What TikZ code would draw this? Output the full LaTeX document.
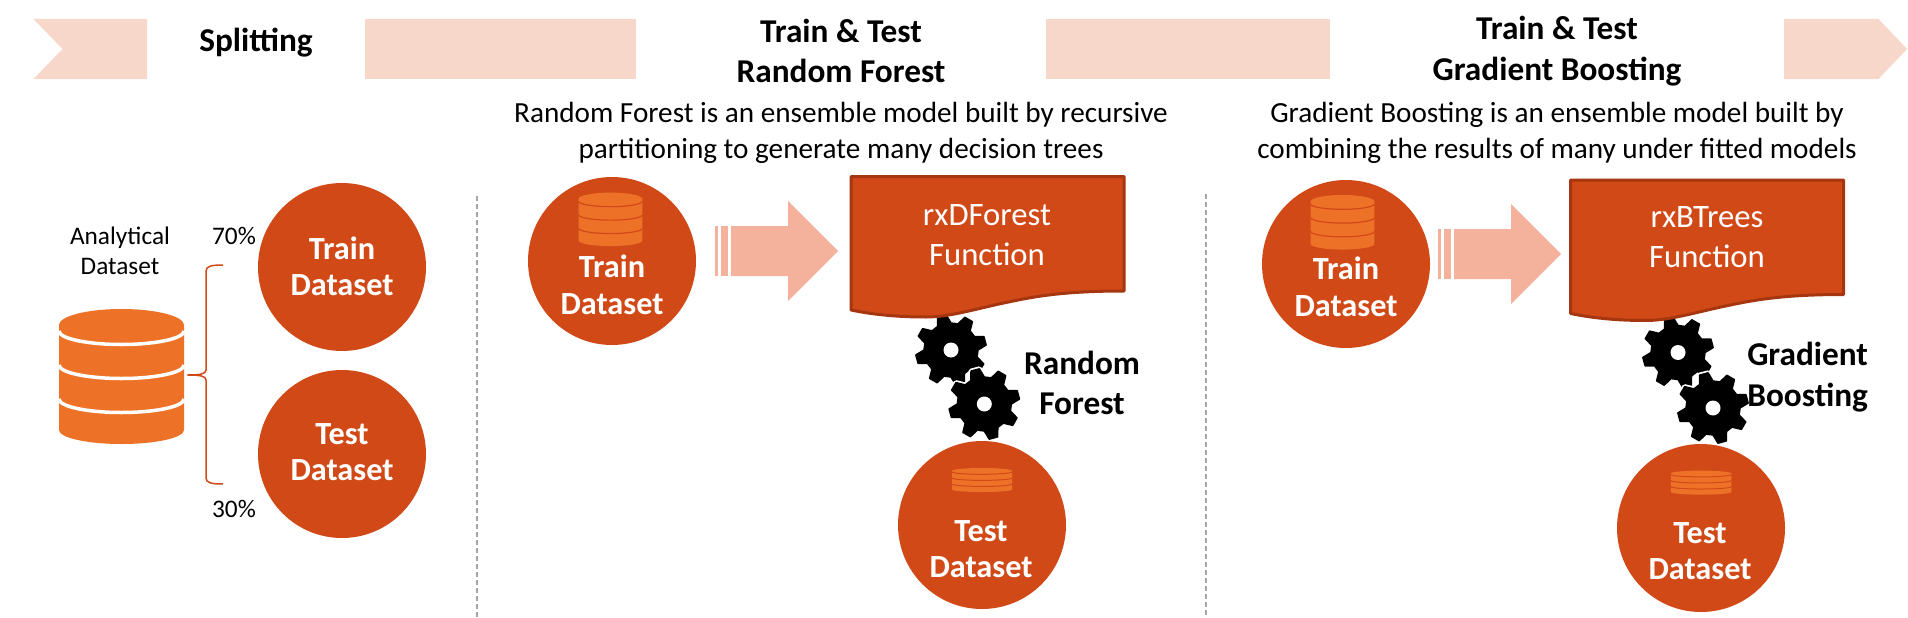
\documentclass[tikz,border=0pt]{standalone}
\usepackage{fontspec}
\setmainfont{Carlito}
\definecolor{rustfill}{HTML}{D14917}
\definecolor{rustline}{HTML}{A5360F}
\definecolor{dborange}{HTML}{EE7128}
\definecolor{bandpink}{HTML}{F8D7CB}
\definecolor{arrowpink}{HTML}{F4B19B}
\definecolor{dashgray}{HTML}{A6A6A6}
\tikzset{
  dsetcircle/.style={circle, fill=rustfill, minimum size=168pt, inner sep=0pt},
  dsettext/.style={align=center, text=white, inner sep=0pt, font=\fontsize{32.3}{36.5}\selectfont\bfseries},
  headtext/.style={align=center, inner sep=0pt, font=\fontsize{33.3}{40.5}\selectfont\bfseries},
  desctext/.style={align=center, inner sep=0pt, font=\fontsize{29.2}{35.5}\selectfont},
  functext/.style={align=center, text=white, inner sep=0pt, font=\fontsize{32.7}{40}\selectfont},
  smalltext/.style={align=center, inner sep=0pt, font=\fontsize{25.3}{30}\selectfont}
}
\newcommand{\gearicon}[2]{
  \begin{scope}[shift={(#1,#2)}]
    \draw[fill=black, draw=white, line width=5pt, line join=round] (15:27)
      \foreach \a in {0,45,...,315} { -- ({\a+15}:27) -- ({\a+23}:35.5) -- ({\a+37}:35.5) -- ({\a+45}:27) } -- cycle;
    \draw[fill=black, draw=black, line width=1.5pt, line join=round] (15:27)
      \foreach \a in {0,45,...,315} { -- ({\a+15}:27) -- ({\a+23}:35.5) -- ({\a+37}:35.5) -- ({\a+45}:27) } -- cycle;
    \fill[white] (0,0) circle (7.5);
  \end{scope}
}
\newcommand{\dbicon}[6]{
  \begin{scope}[shift={(#1,#2)}, xscale=#3, yscale=#4]
    \fill[dborange] (-62.5,16) arc (180:360:62.5 and 16) -- (62.5,121) arc (0:180:62.5 and 14) -- cycle;
    \draw[#5, line width=#6] (-62.5,22) arc (180:0:62.5 and 13.5);
    \draw[#5, line width=#6] (-62.5,56) arc (180:0:62.5 and 13.5);
    \draw[#5, line width=#6] (-62.5,90) arc (180:0:62.5 and 13.5);
  \end{scope}
}
\newcommand{\docshape}[2]{
  \begin{scope}[shift={(#1,#2)}]
    \draw[fill=rustfill, draw=rustline, line width=3pt, line join=round] (0,0) -- (273,0) -- (273,114.5)
      .. controls (208,114.5) and (179,121) .. (155,126) .. controls (124,132.5) and (99,140.5) .. (75,140.5)
      .. controls (49,140.5) and (24,138.5) .. (0,133.5) -- cycle;
  \end{scope}
}
\newcommand{\stripearrow}[2]{
  \begin{scope}[shift={(#1,#2)}]
    \fill[arrowpink] (0,-25) rectangle (3,25);
    \fill[arrowpink] (6,-25) rectangle (13,25);
    \fill[arrowpink] (16,-25) -- (73,-25) -- (73,-50) -- (123,0) -- (73,50) -- (73,25) -- (16,25) -- cycle;
  \end{scope}
}
\begin{document}
\begin{tikzpicture}[x=1pt,y=-1pt]
\useasboundingbox (0,0) rectangle (1908,618);
\fill[bandpink] (33.5,19) -- (147,19) -- (147,79) -- (33.5,79) -- (62.5,49) -- cycle;
\fill[bandpink] (365,19) rectangle (636,79);
\fill[bandpink] (1046,19) rectangle (1330,79);
\fill[bandpink] (1784,19) -- (1878.5,19) -- (1907,49) -- (1878.5,79) -- (1784,79) -- cycle;
\node [headtext] (splithead) at (256,43) {Splitting};
\node [headtext] (rfhead) at (841,51) {Train \& Test\\Random Forest};
\node [headtext] (gbhead) at (1557,51) {Train \& Test\\Gradient Boosting};
\node [desctext] (rfdesc) at (841,133) {Random Forest is an ensemble model built by recursive\\partitioning to generate many decision trees};
\node [desctext] (gbdesc) at (1557,133) {Gradient Boosting is an ensemble model built by\\combining the results of many under fitted models};
\draw[dashgray, line width=1.5pt, dash pattern=on 5pt off 3pt] (477,196) -- (477,618);
\draw[dashgray, line width=1.5pt, dash pattern=on 5pt off 3pt] (1206,194) -- (1206,618);
\node [smalltext] (analytical) at (120,251) {Analytical\\Dataset};
\dbicon{121.5}{309}{1}{1}{white}{3.5pt}
\draw[rustfill, line width=1.5pt] (223,265) .. controls (212,265) and (206,266) .. (206,271) -- (206,370) .. controls (206,374) and (200,375) .. (187.5,375) .. controls (200,375) and (206,376) .. (206,380) -- (206,478) .. controls (206,483) and (212,484) .. (223,484);
\node [smalltext] (pct70) at (234,236) {70\%};
\node [smalltext] (pct30) at (234,509) {30\%};
\node [dsetcircle] (train1) at (342,267) {};
\node [dsettext] (train1text) at (342,266.5) {Train\\Dataset};
\node [dsetcircle] (test1) at (342,454) {};
\node [dsettext] (test1text) at (342,452) {Test\\Dataset};
\node [dsetcircle] (train2) at (612,261) {};
\dbicon{610.5}{192.6}{.51}{.396}{rustfill}{1.2pt}
\node [dsettext] (train2text) at (612,285) {Train\\Dataset};
\stripearrow{715}{251}
\gearicon{951}{350}
\gearicon{984.3}{404}
\docshape{851}{176.5}
\node [functext] (rffunc) at (987,235) {rxDForest\\Function};
\node [headtext] (rflabel) at (1082,383) {Random\\Forest};
\node [dsetcircle] (test2) at (982,525) {};
\dbicon{982}{468}{.48}{.178}{rustfill}{1pt}
\node [dsettext] (test2text) at (981,549) {Test\\Dataset};
\node [dsetcircle] (train3) at (1346,264) {};
\dbicon{1342.5}{195}{.51}{.404}{rustfill}{1.2pt}
\node [dsettext] (train3text) at (1346,287) {Train\\Dataset};
\stripearrow{1438}{254}
\gearicon{1678}{352.5}
\gearicon{1713}{408}
\docshape{1570.6}{180}
\node [functext] (gbfunc) at (1707,237) {rxBTrees\\Function};
\node [headtext] (gblabel) at (1807.6,377) {Gradient\\Boosting};
\node [dsetcircle] (test3) at (1701,528) {};
\dbicon{1701}{470.6}{.484}{.178}{rustfill}{1pt}
\node [dsettext] (test3text) at (1700,551) {Test\\Dataset};
\end{tikzpicture}
\end{document}
